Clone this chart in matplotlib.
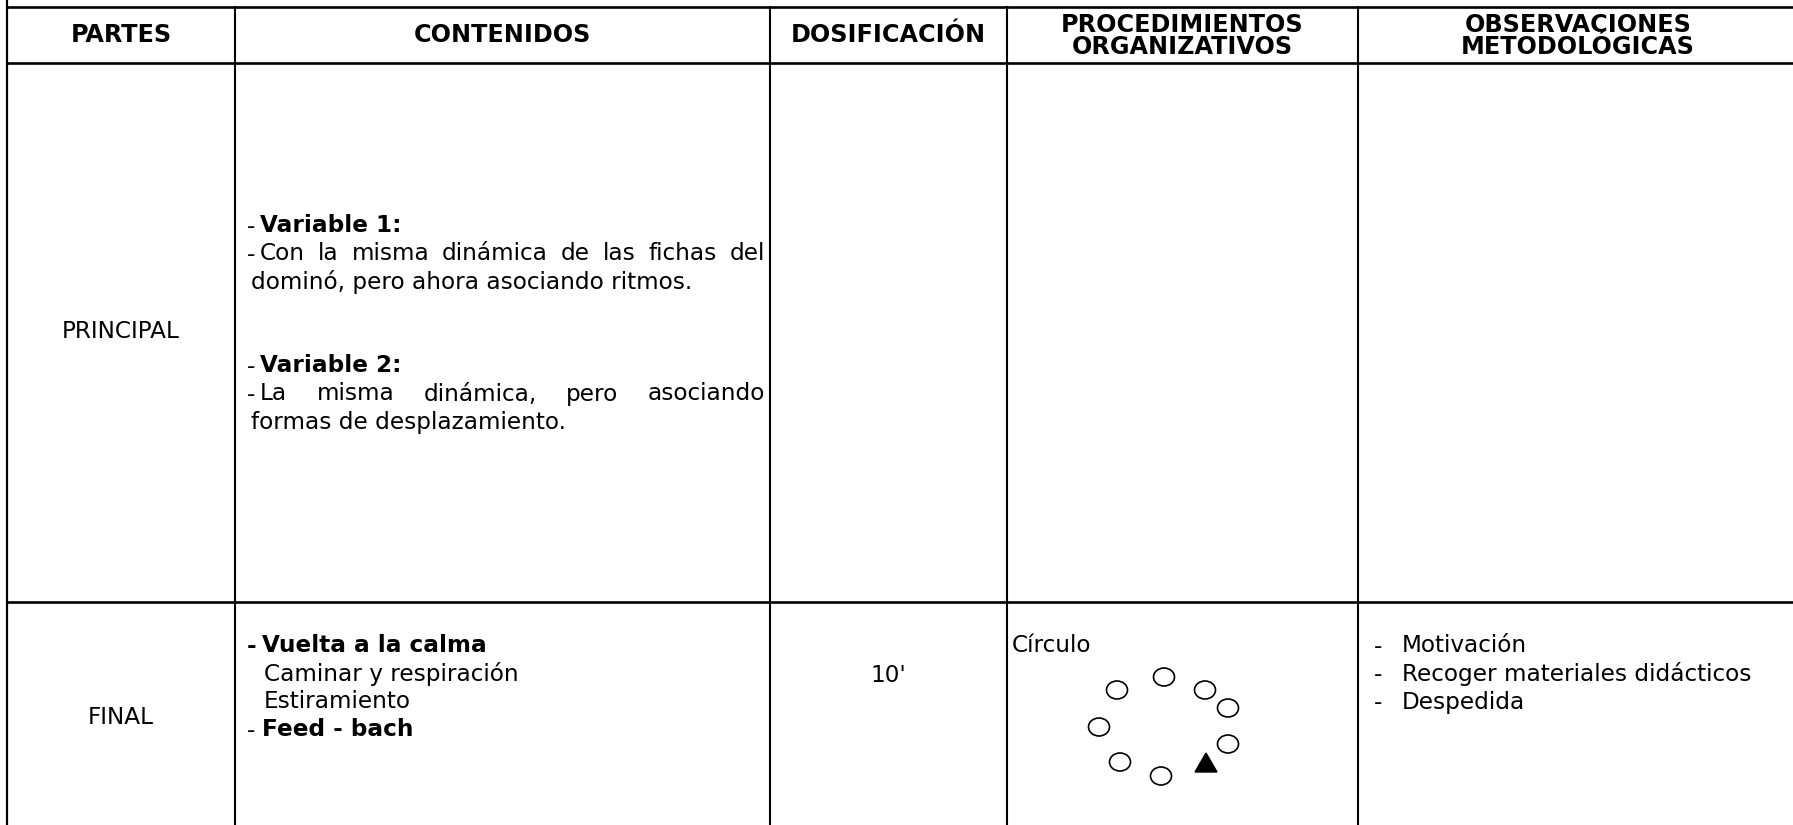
import matplotlib
matplotlib.use('Agg')
import matplotlib.pyplot as plt
from matplotlib.patches import Ellipse, Polygon

W, H = 1793, 825

# contenido de la tabla
encabezados = ['PARTES', 'CONTENIDOS', 'DOSIFICACIÓN',
               'PROCEDIMIENTOS\nORGANIZATIVOS', 'OBSERVACIONES\nMETODOLÓGICAS']
partes = ['PRINCIPAL', 'FINAL']
dosificacion = ['', "10'"]
procedimiento_final = 'Círculo'
observaciones_final = ['Motivación', 'Recoger materiales didácticos', 'Despedida']

# (guion, texto, negrita del guion, negrita del texto, justificado)
contenidos_principal = [
    ('- ', 'Variable 1:', False, True, False),
    ('- ', 'Con la misma dinámica de las fichas del', False, False, True),
    ('', 'dominó, pero ahora asociando ritmos.', False, False, False),
    None,
    None,
    ('- ', 'Variable 2:', False, True, False),
    ('- ', 'La misma dinámica, pero asociando', False, False, True),
    ('', 'formas de desplazamiento.', False, False, False),
]
contenidos_final = [
    ('- ', 'Vuelta a la calma', True, True, False),
    ('', 'Caminar y respiración', False, False, False),
    ('', 'Estiramiento', False, False, False),
    ('- ', 'Feed - bach', False, True, False),
]

# formación en círculo: alumnos (x, y) y profesor, relativos a la celda
alumnos_x = [157, 110, 198, 221, 92, 221, 113, 154]
alumnos_y = [75, 88, 88, 106, 125, 142, 160, 174]
profesor = (199, 160)

col_x = [7, 235, 770, 1007, 1358, 1798]
fila_y = [7, 63, 602, 850]

fig = plt.figure(figsize=(W / 100, H / 100), dpi=100)
ax = fig.add_axes([0, 0, 1, 1])
ax.set_xlim(0, W)
ax.set_ylim(H, 0)
ax.axis('off')
renderer = fig.canvas.get_renderer()

fs = 16.7
fs_head = 17.2
lh = 28

# lineas de la tabla
ax.plot([col_x[0], col_x[0]], [0, H], color='black', lw=1.6)
for y in fila_y[:3]:
    ax.plot([col_x[0], W], [y, y], color='black', lw=1.9)
for x in col_x[1:5]:
    ax.plot([x, x], [fila_y[0], H], color='black', lw=1.5)

centros = [(col_x[i] + col_x[i + 1]) / 2 for i in range(5)]

# encabezados
for i, t in enumerate(encabezados):
    if '\n' in t:
        l1, l2 = t.split('\n')
        ax.text(centros[i], 25, l1, ha='center', va='center', fontsize=fs_head, fontweight='bold')
        ax.text(centros[i], 47, l2, ha='center', va='center', fontsize=fs_head, fontweight='bold')
    else:
        ax.text(centros[i], 35, t, ha='center', va='center', fontsize=fs_head, fontweight='bold')

ax.text(centros[0], 332, partes[0], ha='center', va='center', fontsize=fs)
ax.text(centros[0], 718, partes[1], ha='center', va='center', fontsize=fs)


def linea_justificada(x0, x1, y, texto, **kw):
    palabras = texto.split()
    arts = [ax.text(0, y, p, ha='left', va='center', **kw) for p in palabras]
    anchos = [a.get_window_extent(renderer).width for a in arts]
    hueco = (x1 - x0 - sum(anchos)) / (len(palabras) - 1)
    x = x0
    for a, w in zip(arts, anchos):
        a.set_x(x)
        x += w + hueco


def escribir(lineas, y0, x_guion, x_texto, x_cont, x_fin):
    y = y0
    for ln in lineas:
        if ln is not None:
            guion, texto, ng, nt, just = ln
            if guion:
                ax.text(x_guion, y, '-', ha='left', va='center', fontsize=fs,
                        fontweight='bold' if ng else 'normal')
                x = x_texto
            else:
                x = x_cont
            w = 'bold' if nt else 'normal'
            if just:
                linea_justificada(x, x_fin, y, texto, fontsize=fs, fontweight=w)
            else:
                ax.text(x, y, texto, ha='left', va='center', fontsize=fs, fontweight=w)
        y += lh


escribir(contenidos_principal, 226, 247, 260, 251, 765)
escribir(contenidos_final, 646, 247, 262, 264, 765)

ax.text(centros[2], 675, dosificacion[1], ha='center', va='center', fontsize=fs)

ax.text(col_x[3] + 5, 646, procedimiento_final, ha='left', va='center', fontsize=fs)
for xa, ya in zip(alumnos_x, alumnos_y):
    ax.add_patch(Ellipse((col_x[3] + xa, fila_y[2] + ya), 21, 18, fill=False,
                         edgecolor='black', lw=1.2))
px, py = col_x[3] + profesor[0], fila_y[2] + profesor[1]
ax.add_patch(Polygon([(px - 11, py + 10), (px + 11, py + 10), (px, py - 9)],
                     closed=True, facecolor='black', edgecolor='black'))

for i, t in enumerate(observaciones_final):
    ax.text(col_x[4] + 16, 646 + i * lh, '-', ha='left', va='center', fontsize=fs)
    ax.text(col_x[4] + 44, 646 + i * lh, t, ha='left', va='center', fontsize=fs)

fig.savefig('out.png', dpi=100)
